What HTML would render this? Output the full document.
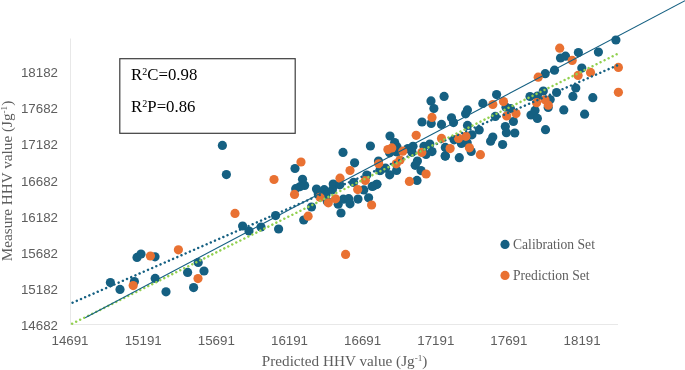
<!DOCTYPE html>
<html><head><meta charset="utf-8"><title>HHV scatter</title>
<style>html,body{margin:0;padding:0;background:#fff}svg{display:block}
.t{font-family:"Liberation Sans",sans-serif;font-size:13.33px;fill:#5e5e5e}
.s{font-family:"Liberation Serif",serif;fill:#5e5e5e}
</style></head><body>
<svg width="685" height="370" viewBox="0 0 685 370">
<rect width="685" height="370" fill="#fff"/>
<line x1="70.5" y1="38.5" x2="70.5" y2="324.5" stroke="#E8E8E8" stroke-width="1"/>
<line x1="70" y1="324.5" x2="618" y2="324.5" stroke="#E8E8E8" stroke-width="1"/>
<text class="t" x="58" y="77.2" text-anchor="end">18182</text>
<text class="t" x="58" y="113.3" text-anchor="end">17682</text>
<text class="t" x="58" y="149.4" text-anchor="end">17182</text>
<text class="t" x="58" y="185.5" text-anchor="end">16682</text>
<text class="t" x="58" y="221.6" text-anchor="end">16182</text>
<text class="t" x="58" y="257.7" text-anchor="end">15682</text>
<text class="t" x="58" y="293.8" text-anchor="end">15182</text>
<text class="t" x="58" y="329.9" text-anchor="end">14682</text>
<text class="t" x="70.0" y="345.4" text-anchor="middle">14691</text>
<text class="t" x="143.2" y="345.4" text-anchor="middle">15191</text>
<text class="t" x="216.3" y="345.4" text-anchor="middle">15691</text>
<text class="t" x="289.5" y="345.4" text-anchor="middle">16191</text>
<text class="t" x="362.6" y="345.4" text-anchor="middle">16691</text>
<text class="t" x="435.8" y="345.4" text-anchor="middle">17191</text>
<text class="t" x="508.9" y="345.4" text-anchor="middle">17691</text>
<text class="t" x="582.1" y="345.4" text-anchor="middle">18191</text>
<text class="s" font-size="15.2" x="344.6" y="366.4" text-anchor="middle">Predicted HHV value (Jg<tspan font-size="9.2" dy="-5">-1</tspan><tspan dy="5">)</tspan></text>
<text class="s" font-size="15.2" transform="translate(11.8,181) rotate(-90)" text-anchor="middle">Measure HHV value (Jg<tspan font-size="9.2" dy="-5">-1</tspan><tspan dy="5">)</tspan></text>
<g fill="#156082">
<circle cx="110.4" cy="282.6" r="4.6"/>
<circle cx="120.0" cy="289.4" r="4.6"/>
<circle cx="134.4" cy="281.6" r="4.6"/>
<circle cx="155.2" cy="278.4" r="4.6"/>
<circle cx="166.0" cy="291.8" r="4.6"/>
<circle cx="187.6" cy="272.4" r="4.6"/>
<circle cx="193.6" cy="287.6" r="4.6"/>
<circle cx="198.2" cy="262.5" r="4.6"/>
<circle cx="204.0" cy="271.0" r="4.6"/>
<circle cx="137.0" cy="257.4" r="4.6"/>
<circle cx="141.0" cy="254.0" r="4.6"/>
<circle cx="155.0" cy="256.8" r="4.6"/>
<circle cx="242.6" cy="226.0" r="4.6"/>
<circle cx="249.0" cy="231.0" r="4.6"/>
<circle cx="261.0" cy="227.0" r="4.6"/>
<circle cx="275.6" cy="215.6" r="4.6"/>
<circle cx="278.6" cy="229.0" r="4.6"/>
<circle cx="222.4" cy="145.4" r="4.6"/>
<circle cx="226.4" cy="174.6" r="4.6"/>
<circle cx="295.0" cy="168.5" r="4.6"/>
<circle cx="302.5" cy="179.3" r="4.6"/>
<circle cx="295.7" cy="188.7" r="4.6"/>
<circle cx="304.6" cy="185.4" r="4.6"/>
<circle cx="300.2" cy="186.6" r="4.6"/>
<circle cx="396.9" cy="146.7" r="4.6"/>
<circle cx="412.0" cy="152.3" r="4.6"/>
<circle cx="303.7" cy="220.0" r="4.6"/>
<circle cx="311.5" cy="207.0" r="4.6"/>
<circle cx="316.5" cy="189.0" r="4.6"/>
<circle cx="318.3" cy="194.0" r="4.6"/>
<circle cx="324.2" cy="189.7" r="4.6"/>
<circle cx="326.0" cy="194.8" r="4.6"/>
<circle cx="327.3" cy="201.4" r="4.6"/>
<circle cx="333.2" cy="184.0" r="4.6"/>
<circle cx="332.4" cy="189.7" r="4.6"/>
<circle cx="339.8" cy="184.8" r="4.6"/>
<circle cx="338.2" cy="204.2" r="4.6"/>
<circle cx="341.0" cy="213.0" r="4.6"/>
<circle cx="343.4" cy="199.2" r="4.6"/>
<circle cx="348.7" cy="198.7" r="4.6"/>
<circle cx="350.0" cy="203.8" r="4.6"/>
<circle cx="353.6" cy="182.4" r="4.6"/>
<circle cx="358.0" cy="199.1" r="4.6"/>
<circle cx="363.8" cy="189.9" r="4.6"/>
<circle cx="366.8" cy="175.1" r="4.6"/>
<circle cx="368.6" cy="197.8" r="4.6"/>
<circle cx="373.3" cy="186.0" r="4.6"/>
<circle cx="377.0" cy="184.3" r="4.6"/>
<circle cx="379.9" cy="170.6" r="4.6"/>
<circle cx="343.0" cy="152.4" r="4.6"/>
<circle cx="354.6" cy="162.8" r="4.6"/>
<circle cx="370.4" cy="146.0" r="4.6"/>
<circle cx="390.0" cy="136.0" r="4.6"/>
<circle cx="394.7" cy="142.6" r="4.6"/>
<circle cx="389.6" cy="152.8" r="4.6"/>
<circle cx="397.0" cy="152.0" r="4.6"/>
<circle cx="378.5" cy="161.0" r="4.6"/>
<circle cx="385.5" cy="168.2" r="4.6"/>
<circle cx="396.6" cy="170.4" r="4.6"/>
<circle cx="407.9" cy="148.5" r="4.6"/>
<circle cx="413.0" cy="146.3" r="4.6"/>
<circle cx="422.0" cy="122.0" r="4.6"/>
<circle cx="431.2" cy="123.5" r="4.6"/>
<circle cx="441.5" cy="124.4" r="4.6"/>
<circle cx="424.0" cy="146.3" r="4.6"/>
<circle cx="429.8" cy="144.0" r="4.6"/>
<circle cx="426.0" cy="154.5" r="4.6"/>
<circle cx="432.0" cy="151.6" r="4.6"/>
<circle cx="417.4" cy="161.0" r="4.6"/>
<circle cx="415.2" cy="165.3" r="4.6"/>
<circle cx="421.0" cy="170.6" r="4.6"/>
<circle cx="380.2" cy="170.4" r="4.6"/>
<circle cx="389.7" cy="174.8" r="4.6"/>
<circle cx="376.6" cy="184.3" r="4.6"/>
<circle cx="372.2" cy="186.5" r="4.6"/>
<circle cx="417.0" cy="180.4" r="4.6"/>
<circle cx="445.2" cy="156.1" r="4.6"/>
<circle cx="459.3" cy="157.7" r="4.6"/>
<circle cx="471.2" cy="151.5" r="4.6"/>
<circle cx="431.0" cy="100.9" r="4.6"/>
<circle cx="444.1" cy="96.4" r="4.6"/>
<circle cx="433.9" cy="108.5" r="4.6"/>
<circle cx="451.5" cy="117.8" r="4.6"/>
<circle cx="453.5" cy="122.6" r="4.6"/>
<circle cx="467.4" cy="109.9" r="4.6"/>
<circle cx="465.6" cy="113.8" r="4.6"/>
<circle cx="482.8" cy="103.4" r="4.6"/>
<circle cx="496.6" cy="94.6" r="4.6"/>
<circle cx="506.0" cy="107.2" r="4.6"/>
<circle cx="510.5" cy="108.7" r="4.6"/>
<circle cx="513.4" cy="121.5" r="4.6"/>
<circle cx="495.3" cy="116.4" r="4.6"/>
<circle cx="467.5" cy="125.4" r="4.6"/>
<circle cx="479.2" cy="130.0" r="4.6"/>
<circle cx="471.9" cy="134.8" r="4.6"/>
<circle cx="505.3" cy="126.6" r="4.6"/>
<circle cx="514.8" cy="133.0" r="4.6"/>
<circle cx="506.4" cy="132.7" r="4.6"/>
<circle cx="454.1" cy="139.8" r="4.6"/>
<circle cx="461.4" cy="143.5" r="4.6"/>
<circle cx="467.2" cy="142.7" r="4.6"/>
<circle cx="445.3" cy="147.4" r="4.6"/>
<circle cx="445.3" cy="155.9" r="4.6"/>
<circle cx="492.8" cy="137.0" r="4.6"/>
<circle cx="490.6" cy="141.2" r="4.6"/>
<circle cx="502.6" cy="144.5" r="4.6"/>
<circle cx="531.0" cy="115.0" r="4.6"/>
<circle cx="545.2" cy="73.7" r="4.6"/>
<circle cx="554.5" cy="70.2" r="4.6"/>
<circle cx="560.5" cy="58.0" r="4.6"/>
<circle cx="565.5" cy="56.2" r="4.6"/>
<circle cx="578.4" cy="52.6" r="4.6"/>
<circle cx="598.4" cy="52.1" r="4.6"/>
<circle cx="615.9" cy="40.0" r="4.6"/>
<circle cx="581.8" cy="68.1" r="4.6"/>
<circle cx="575.8" cy="88.0" r="4.6"/>
<circle cx="572.9" cy="96.4" r="4.6"/>
<circle cx="556.6" cy="92.5" r="4.6"/>
<circle cx="592.8" cy="97.7" r="4.6"/>
<circle cx="563.8" cy="109.9" r="4.6"/>
<circle cx="584.6" cy="114.2" r="4.6"/>
<circle cx="543.3" cy="91.0" r="4.6"/>
<circle cx="530.0" cy="96.5" r="4.6"/>
<circle cx="537.5" cy="96.0" r="4.6"/>
<circle cx="550.2" cy="99.5" r="4.6"/>
<circle cx="548.2" cy="107.5" r="4.6"/>
<circle cx="535.0" cy="110.4" r="4.6"/>
<circle cx="537.4" cy="118.4" r="4.6"/>
<circle cx="545.5" cy="129.7" r="4.6"/>
</g>
<g fill="#E97132">
<circle cx="133.2" cy="285.6" r="4.6"/>
<circle cx="198.0" cy="278.6" r="4.6"/>
<circle cx="150.4" cy="256.0" r="4.6"/>
<circle cx="178.4" cy="249.8" r="4.6"/>
<circle cx="235.0" cy="213.4" r="4.6"/>
<circle cx="274.0" cy="179.5" r="4.6"/>
<circle cx="294.5" cy="194.4" r="4.6"/>
<circle cx="301.0" cy="162.0" r="4.6"/>
<circle cx="308.1" cy="216.2" r="4.6"/>
<circle cx="320.0" cy="197.3" r="4.6"/>
<circle cx="328.3" cy="202.8" r="4.6"/>
<circle cx="335.5" cy="198.8" r="4.6"/>
<circle cx="340.0" cy="178.2" r="4.6"/>
<circle cx="350.0" cy="170.5" r="4.6"/>
<circle cx="357.7" cy="189.6" r="4.6"/>
<circle cx="365.3" cy="180.5" r="4.6"/>
<circle cx="371.6" cy="205.0" r="4.6"/>
<circle cx="345.6" cy="254.4" r="4.6"/>
<circle cx="387.9" cy="149.5" r="4.6"/>
<circle cx="391.8" cy="147.9" r="4.6"/>
<circle cx="402.8" cy="151.2" r="4.6"/>
<circle cx="378.7" cy="163.8" r="4.6"/>
<circle cx="396.2" cy="163.8" r="4.6"/>
<circle cx="400.0" cy="160.1" r="4.6"/>
<circle cx="416.2" cy="135.3" r="4.6"/>
<circle cx="432.0" cy="117.4" r="4.6"/>
<circle cx="441.5" cy="138.4" r="4.6"/>
<circle cx="421.8" cy="152.4" r="4.6"/>
<circle cx="426.1" cy="174.0" r="4.6"/>
<circle cx="409.4" cy="181.4" r="4.6"/>
<circle cx="492.8" cy="104.5" r="4.6"/>
<circle cx="503.5" cy="101.6" r="4.6"/>
<circle cx="506.7" cy="116.0" r="4.6"/>
<circle cx="516.0" cy="113.6" r="4.6"/>
<circle cx="465.9" cy="136.3" r="4.6"/>
<circle cx="458.5" cy="138.4" r="4.6"/>
<circle cx="469.4" cy="147.8" r="4.6"/>
<circle cx="480.4" cy="154.7" r="4.6"/>
<circle cx="450.1" cy="148.6" r="4.6"/>
<circle cx="538.2" cy="77.2" r="4.6"/>
<circle cx="572.2" cy="60.4" r="4.6"/>
<circle cx="590.5" cy="72.4" r="4.6"/>
<circle cx="578.1" cy="75.4" r="4.6"/>
<circle cx="559.7" cy="48.2" r="4.6"/>
<circle cx="618.4" cy="67.4" r="4.6"/>
<circle cx="618.4" cy="92.3" r="4.6"/>
<circle cx="545.0" cy="99.8" r="4.6"/>
<circle cx="536.6" cy="102.7" r="4.6"/>
<circle cx="548.3" cy="105.2" r="4.6"/>
</g>
<line x1="617.00" y1="65.50" x2="72.32" y2="302.82" stroke="#156082" stroke-width="2.5" stroke-linecap="round" stroke-dasharray="0.01 4.5579"/>
<line x1="616.60" y1="54.30" x2="71.93" y2="323.83" stroke="#92D050" stroke-width="2.5" stroke-linecap="round" stroke-dasharray="0.01 4.4563"/>
<line x1="85.2" y1="317.7" x2="685" y2="0.7" stroke="#156082" stroke-width="1.1"/>
<rect x="119.8" y="58.7" width="175.4" height="74.6" fill="#fff" stroke="#3c3c3c" stroke-width="1.2"/>
<text font-family="Liberation Serif,serif" font-size="16.8" fill="#000" x="131.1" y="79.6">R<tspan font-size="10" dy="-5">2</tspan><tspan dy="5">C=0.98</tspan></text>
<text font-family="Liberation Serif,serif" font-size="16.8" fill="#000" x="131.1" y="112.4">R<tspan font-size="10" dy="-5">2</tspan><tspan dy="5">P=0.86</tspan></text>
<circle cx="505" cy="244.4" r="4.6" fill="#156082"/>
<circle cx="505" cy="275.4" r="4.6" fill="#E97132"/>
<text class="s" font-size="13.6" x="513" y="248.9">Calibration Set</text>
<text class="s" font-size="13.6" x="513" y="280">Prediction Set</text>
</svg></body></html>
